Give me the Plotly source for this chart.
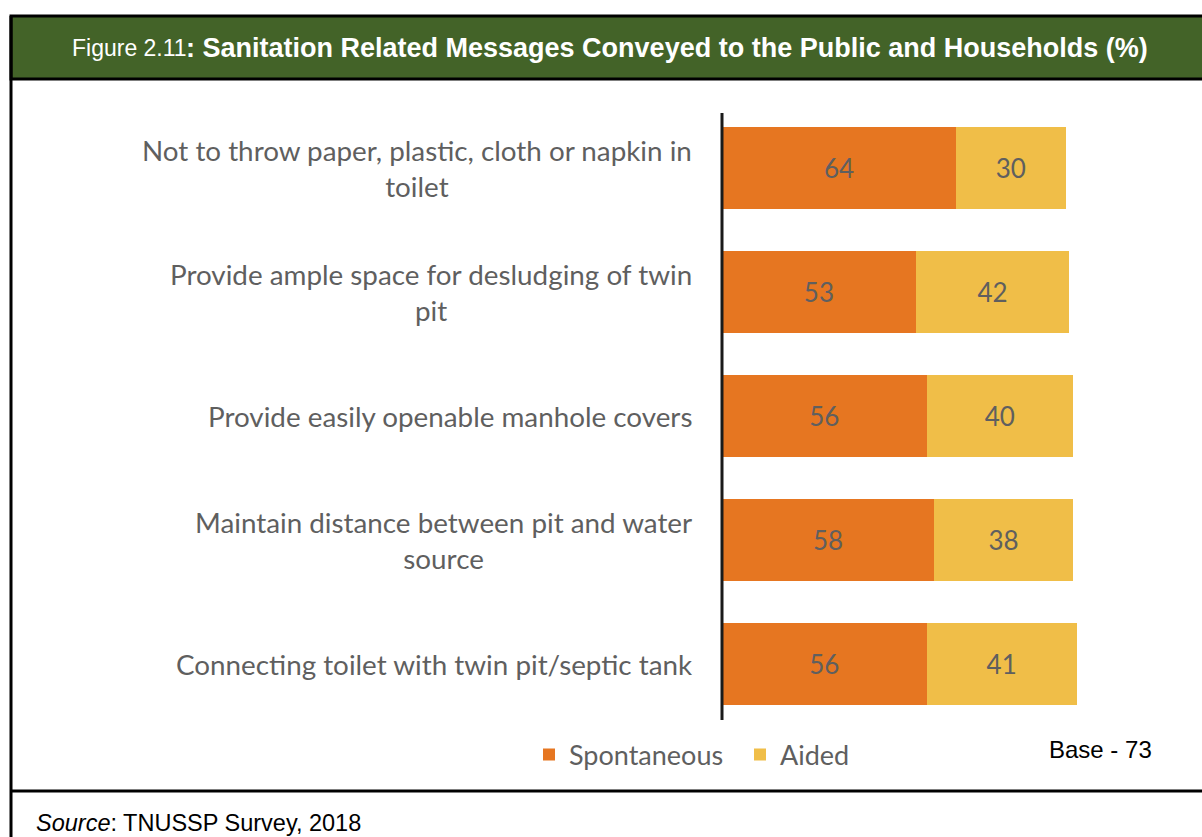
import plotly.graph_objects as go

W, H = 1202, 837

categories = [
    "Not to throw paper, plastic, cloth or napkin in<br>toilet",
    "Provide ample space for desludging of twin<br>pit",
    "Provide easily openable manhole covers",
    "Maintain distance between pit and water<br>source",
    "Connecting toilet with twin pit/septic tank",
]
spontaneous = [64, 53, 56, 58, 56]
aided = [30, 42, 40, 38, 41]

ORANGE = "#E67621"
YELLOW = "#F0BE48"
GREEN = "#436328"
GREY = "#5f5f5f"
LABEL_FONT = "Lato"
ARIAL = "Liberation Sans, Arial"


def px(x):
    return x / W


def py(y):
    return 1 - y / H


fig = go.Figure()
fig.add_trace(go.Bar(
    y=categories, x=spontaneous, name="Spontaneous", orientation="h",
    marker=dict(color=ORANGE, line=dict(width=0)),
    text=spontaneous, textposition="inside", insidetextanchor="middle", textangle=0,
    textfont=dict(family=LABEL_FONT, size=26, color=GREY),
))
fig.add_trace(go.Bar(
    y=categories, x=aided, name="Aided", orientation="h",
    marker=dict(color=YELLOW, line=dict(width=0)),
    text=aided, textposition="inside", insidetextanchor="middle", textangle=0,
    textfont=dict(family=LABEL_FONT, size=26, color=GREY),
))

# category labels, centred lines, right edge near the axis
for c in categories:
    fig.add_annotation(
        x=px(694), xref="paper", y=c, yref="y", xanchor="right", align="center",
        text=c, showarrow=False,
        font=dict(family=LABEL_FONT, size=27.8, color=GREY),
    )

shapes = [
    # title band
    dict(type="rect", xref="paper", yref="paper", x0=px(11), x1=px(1210), y0=py(79), y1=py(16),
         fillcolor=GREEN, line=dict(color="black", width=3), layer="below"),
    # left border
    dict(type="line", xref="paper", yref="paper", x0=px(11), x1=px(11), y0=py(16), y1=py(845),
         line=dict(color="black", width=3)),
    # source separator
    dict(type="line", xref="paper", yref="paper", x0=px(11), x1=px(1210), y0=py(791), y1=py(791),
         line=dict(color="black", width=3)),
    # category axis line
    dict(type="line", xref="paper", yref="paper", x0=px(722), x1=px(722), y0=py(113), y1=py(720),
         line=dict(color="#1a1a1a", width=3)),
]

fig.add_annotation(
    x=px(70), y=py(48), xref="paper", yref="paper", xanchor="left", yanchor="middle",
    text="Figure 2.11", showarrow=False, font=dict(family=ARIAL, size=23, color="white"),
)
fig.add_annotation(
    x=px(184), y=py(48), xref="paper", yref="paper", xanchor="left", yanchor="middle",
    text="<b>: Sanitation Related Messages Conveyed to the Public and Households (%)</b>",
    showarrow=False, font=dict(family=ARIAL, size=27, color="white"),
)
fig.add_annotation(
    x=px(1047), y=py(749), xref="paper", yref="paper", xanchor="left", yanchor="middle",
    text="Base - 73", showarrow=False, font=dict(family=ARIAL, size=24, color="black"),
)
fig.add_annotation(
    x=px(34), y=py(823), xref="paper", yref="paper", xanchor="left", yanchor="middle",
    text="<i>Source</i>: TNUSSP Survey, 2018", showarrow=False,
    font=dict(family=ARIAL, size=23.5, color="black"),
)

fig.update_layout(
    width=W, height=H, autosize=False,
    margin=dict(l=0, r=0, t=0, b=0),
    paper_bgcolor="white", plot_bgcolor="white",
    barmode="stack", bargap=0.34,
    shapes=shapes,
    showlegend=True,
    legend=dict(orientation="h", x=px(529), y=py(755), xanchor="left", yanchor="middle",
                font=dict(family=LABEL_FONT, size=27, color=GREY), traceorder="normal",
                entrywidth=166, entrywidthmode="pixels",
                bgcolor="rgba(0,0,0,0)"),
    xaxis=dict(domain=[px(722), px(1087.6)], range=[0, 100], visible=False, fixedrange=True),
    yaxis=dict(domain=[py(726), py(106)], autorange="reversed", showticklabels=False,
               showgrid=False, zeroline=False, ticks="", fixedrange=True),
    uniformtext=dict(minsize=26, mode="show"),
)

# page body has a default 8px margin; drop it so the figure sits at 0,0
fig.write_html("out.html", config={"displayModeBar": False},
               post_script="document.body.style.margin='0';")
